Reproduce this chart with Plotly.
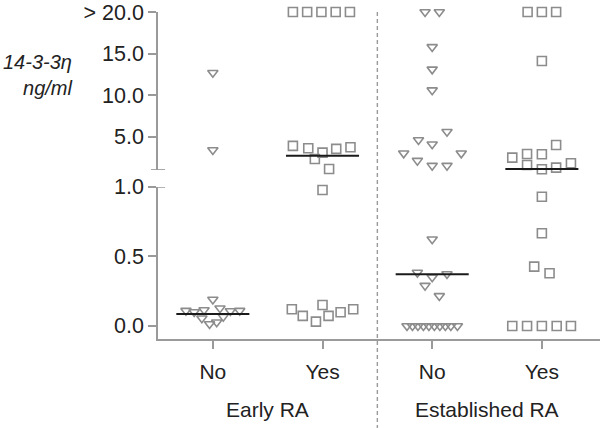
import plotly.graph_objects as go

# ---------------- data ----------------
groups = ["Early RA", "Established RA"]
tick_labels = ["No", "Yes", "No", "Yes"]
cap_value = 20.0  # values shown as "> 20.0" are plotted at the cap

# values (ng/ml); 20.0 means "> 20.0"
early_no_vals = [12.7, 3.4, 0.19, 0.11, 0.10, 0.115, 0.127, 0.108, 0.11, 0.055, 0.014, 0.027, 0.067]
early_no_jit = [0, 0, 0, -0.245, -0.17, -0.08, 0.065, 0.16, 0.245, -0.10, -0.03, 0.035, 0.095]

early_yes_vals = [20, 20, 20, 20, 20, 3.89, 3.61, 3.08, 3.53, 3.73, 2.32, 1.12,
                  0.978, 0.12, 0.072, 0.031, 0.151, 0.072, 0.098, 0.12]
early_yes_jit = [-0.27, -0.14, -0.01, 0.12, 0.25, -0.27, -0.13, 0, 0.125, 0.255, -0.07, 0.06,
                 0, -0.28, -0.18, -0.06, 0, 0.055, 0.165, 0.28]

est_no_vals = [20, 20, 15.8, 13.1, 10.6, 5.6, 4.6, 4.09, 3.0, 2.12, 1.52, 1.52, 3.0,
               0.624, 0.384, 0.35, 0.374, 0.29, 0.216,
               0, 0, 0, 0, 0, 0, 0, 0, 0, 0]
est_no_jit = [-0.065, 0.065, 0, 0, 0, 0.135, -0.125, 0, -0.26, -0.135, 0, 0.135, 0.265,
              0, -0.135, 0, 0.135, -0.065, 0.065,
              -0.23, -0.18, -0.13, -0.08, -0.03, 0.02, 0.07, 0.12, 0.17, 0.23]

est_yes_vals = [20, 20, 20, 14.1, 2.48, 2.92, 2.89, 4.0, 1.6, 1.08, 1.28, 1.8,
                0.93, 0.667, 0.427, 0.379, 0, 0, 0, 0, 0]
est_yes_jit = [-0.13, 0, 0.13, 0, -0.27, -0.135, 0, 0.13, -0.135, 0, 0.13, 0.265,
               0, 0, -0.07, 0.07, -0.27, -0.135, 0, 0.135, 0.265]

medians = [0.086, 2.72, 0.372, 1.12]

lower_ticks = [0.0, 0.5, 1.0]
lower_tick_text = ["0.0", "0.5", "1.0"]
upper_ticks = [5, 10, 15, 20]
upper_tick_text = ["5.0", "10.0", "15.0", "> 20.0"]
break_value = 1.0

# ---------------- figure ----------------
GREY = "#8c8c8c"
AXIS = "#9a9a9a"
FONT = "Liberation Sans, Arial, sans-serif"
TXT = "#222222"

series = [
    (early_no_vals, early_no_jit, "triangle-down-open"),
    (early_yes_vals, early_yes_jit, "square-open"),
    (est_no_vals, est_no_jit, "triangle-down-open"),
    (est_yes_vals, est_yes_jit, "square-open"),
]

fig = go.Figure()
for i, (vals, jit, sym) in enumerate(series):
    lo_x = [i + j for v, j in zip(vals, jit) if v < break_value]
    lo_y = [v for v in vals if v < break_value]
    hi_x = [i + j for v, j in zip(vals, jit) if v >= break_value]
    hi_y = [min(v, cap_value) for v in vals if v >= break_value]
    mk = dict(symbol=sym, size=9, color=GREY, line=dict(color=GREY, width=1.6))
    fig.add_trace(go.Scatter(x=lo_x, y=lo_y, mode="markers", marker=mk,
                             xaxis="x", yaxis="y", cliponaxis=False, showlegend=False))
    fig.add_trace(go.Scatter(x=hi_x, y=hi_y, mode="markers", marker=mk,
                             xaxis="x", yaxis="y2", cliponaxis=False, showlegend=False))
    m = medians[i]
    fig.add_trace(go.Scatter(x=[i - 0.333, i + 0.333], y=[m, m], mode="lines",
                             line=dict(color="#1a1a1a", width=2),
                             xaxis="x", yaxis=("y" if m < break_value else "y2"),
                             cliponaxis=False, showlegend=False))

axis_common = dict(
    showline=True, linecolor=AXIS, linewidth=1.6,
    ticks="outside", ticklen=8, tickwidth=1.6, tickcolor=AXIS,
    showgrid=False, zeroline=False, ticklabeloverflow="allow",
)

fig.update_layout(
    width=600, height=428,
    margin=dict(l=158, r=0, t=12, b=89),
    paper_bgcolor="white", plot_bgcolor="white",
    font=dict(family=FONT, size=21, color=TXT),
    xaxis=dict(
        domain=[0, 1], anchor="y", range=[-0.5, 3.53],
        tickmode="array", tickvals=[0, 1, 2, 3], ticktext=tick_labels,
        tickfont=dict(size=21), ticklabelstandoff=5, **axis_common,
    ),
    yaxis=dict(
        domain=[0, 0.465], anchor="x", range=[-0.094, 1.0],
        tickmode="array", tickvals=lower_ticks, ticktext=lower_tick_text,
        tickfont=dict(size=21.5), **axis_common,
    ),
    yaxis2=dict(
        domain=[0.517, 1], anchor="x", range=[1.0, 20.0],
        tickmode="array", tickvals=upper_ticks, ticktext=upper_tick_text,
        tickfont=dict(size=21.5), **axis_common,
    ),
)

# axis-break caps
for yr in ["y", "y2"]:
    fig.add_shape(type="line", xref="paper", yref=yr, x0=-0.016, x1=0.016,
                  y0=break_value, y1=break_value, line=dict(color=AXIS, width=1.6))

# dashed separator between groups
fig.add_shape(type="line", xref="x", yref="paper", x0=1.5, x1=1.5, y0=-0.275, y1=1.0,
              line=dict(color=AXIS, width=1.4, dash="4px,3px"))

# group labels
for k, g in enumerate(groups):
    fig.add_annotation(text=g, xref="x", yref="paper", x=2 * k + 0.5, y=-0.217,
                       showarrow=False, xanchor="center", yanchor="middle",
                       font=dict(family=FONT, size=21, color=TXT))

# y title
fig.add_annotation(text="<i>14-3-3η</i><br><i>ng/ml</i>", xref="paper", yref="paper",
                   x=-0.19, y=(339 - 75) / 327, xanchor="right", yanchor="middle",
                   align="right", showarrow=False,
                   font=dict(family=FONT, size=20, color=TXT))

fig.write_html("out.html", config={"displayModeBar": False},
               post_script="document.body.style.margin='0';")
